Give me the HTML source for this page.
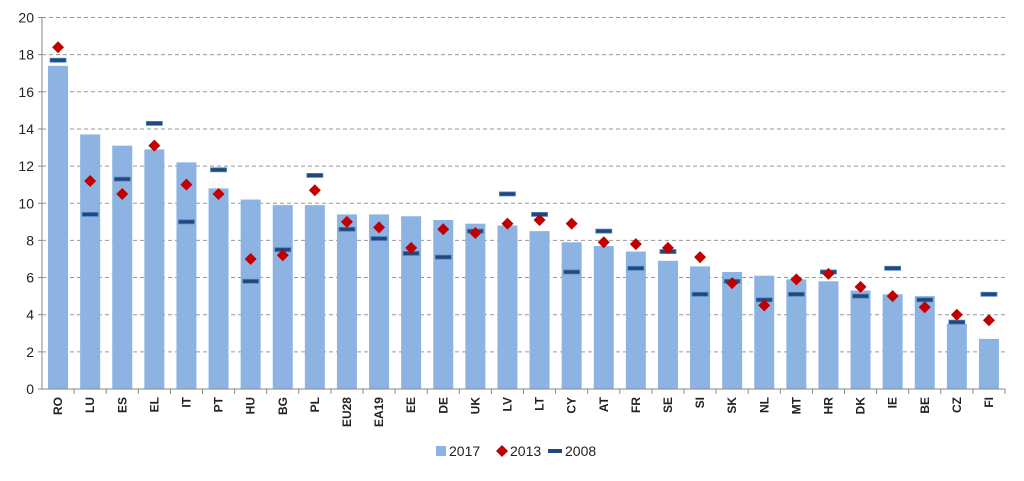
<!DOCTYPE html>
<html><head><meta charset="utf-8"><style>
body{margin:0;background:#fff;font-family:"Liberation Sans",sans-serif}
</style></head><body>
<svg id="c" width="1024" height="476" xmlns="http://www.w3.org/2000/svg"></svg>
<script>
const categories=["RO","LU","ES","EL","IT","PT","HU","BG","PL","EU28","EA19","EE","DE","UK","LV","LT","CY","AT","FR","SE","SI","SK","NL","MT","HR","DK","IE","BE","CZ","FI"];
const values2017=[17.4,13.7,13.1,12.9,12.2,10.8,10.2,9.9,9.9,9.4,9.4,9.3,9.1,8.9,8.8,8.5,7.9,7.7,7.4,6.9,6.6,6.3,6.1,5.9,5.8,5.3,5.1,5.0,3.5,2.7];
const values2013=[18.4,11.2,10.5,13.1,11.0,10.5,7.0,7.2,10.7,9.0,8.7,7.6,8.6,8.4,8.9,9.1,8.9,7.9,7.8,7.6,7.1,5.7,4.5,5.9,6.2,5.5,5.0,4.4,4.0,3.7];
const values2008=[17.7,9.4,11.3,14.3,9.0,11.8,5.8,7.5,11.5,8.6,8.1,7.3,7.1,8.5,10.5,9.4,6.3,8.5,6.5,7.4,5.1,5.8,4.8,5.1,6.3,5.0,6.5,4.8,3.6,5.1];
const yTicks=[0,2,4,6,8,10,12,14,16,18,20];
const svg=document.getElementById('c');const NS='http://www.w3.org/2000/svg';
const L=42,R=1005,Y0=389,Y1=17.5;
const y=v=>Y0-(v/20)*(Y0-Y1);
const bw=(R-L)/categories.length;
const x=i=>L+bw*(i+0.5);
function mk(t,a,p){const e=document.createElementNS(NS,t);for(const k in a)e.setAttribute(k,a[k]);(p||svg).appendChild(e);return e;}
yTicks.forEach(t=>{
  if(t>0){const g=mk('line',{x1:L,x2:R,y1:y(t),y2:y(t),stroke:'#999','stroke-dasharray':'4,3','stroke-width':1});
  
  }
  const tk=mk('line',{x1:L-4,x2:L,y1:y(t),y2:y(t),stroke:'#888'});
  
  
  const tx=mk('text',{x:L-8,y:y(t)+5,'text-anchor':'end','font-size':14,fill:'#222'});tx.textContent=t;
  
  
});
categories.forEach((c,i)=>{
  const b=mk('rect',{x:x(i)-10,y:y(values2017[i]),width:20,height:Y0-y(values2017[i]),fill:'#8db3e2'});
  
  
});
categories.forEach((c,i)=>{
  const d=mk('rect',{x:x(i)-8,y:y(values2008[i])-2,width:16,height:4,fill:'#1f497d',stroke:'#4f81bd','stroke-width':0.8});
  
  
  const cx=x(i),cy=y(values2013[i]);
  const p=mk('polygon',{points:`${cx},${cy-6} ${cx+6},${cy} ${cx},${cy+6} ${cx-6},${cy}`,fill:'#c00000'});
  
  
});
const ax=mk('line',{x1:L,x2:L,y1:Y1,y2:Y0,stroke:'#888'});


const xa=mk('line',{x1:L,x2:R,y1:Y0,y2:Y0,stroke:'#888'});


categories.forEach((c,i)=>{
  const t=mk('line',{x1:L+bw*(i+1),x2:L+bw*(i+1),y1:Y0,y2:Y0+5,stroke:'#888'});
  
  
  const tx=mk('text',{x:0,y:0,'text-anchor':'end','font-size':12,'font-weight':'bold',fill:'#222',transform:`translate(${x(i)+4},${Y0+8}) rotate(-90)`});
  tx.textContent=c;
  
  
});
const lg=mk('g',{});


const l1=mk('rect',{x:436,y:446,width:10,height:10,fill:'#8db3e2'},lg);


const t1=mk('text',{x:449,y:456,'font-size':14,fill:'#222'},lg);t1.textContent='2017';


const l2=mk('polygon',{points:'502,445 508,451 502,457 496,451',fill:'#c00000'},lg);


const t2=mk('text',{x:510,y:456,'font-size':14,fill:'#222'},lg);t2.textContent='2013';


const l3=mk('rect',{x:548,y:449,width:14,height:4,fill:'#1f497d'},lg);


const t3=mk('text',{x:565,y:456,'font-size':14,fill:'#222'},lg);t3.textContent='2008';


</script>
</body></html>
